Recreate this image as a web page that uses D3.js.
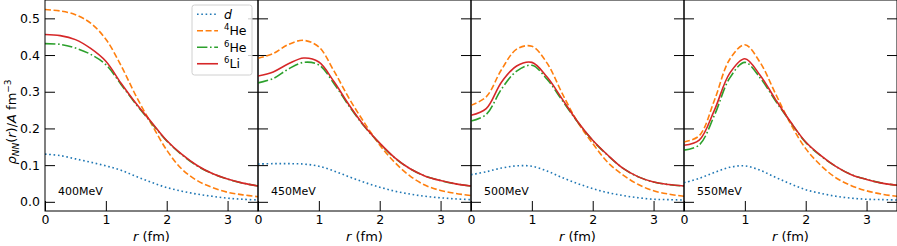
<!DOCTYPE html>
<html>
<head>
<meta charset="utf-8">
<script src="https://cdn.jsdelivr.net/npm/d3@7"></script>
<style>
  body { margin: 0; background: #fff; }
  text { font-family: "DejaVu Sans", sans-serif; }
</style>
</head>
<body>
<svg id="chart"></svg>
<script>
const size = {w: 897, h: 246};

// r grid (fm) shared by every curve
const rGrid = [0, 0.25, 0.5, 0.75, 1.0, 1.25, 1.5, 1.75, 2.0, 2.25, 2.5, 2.75, 3.0, 3.25, 3.5];
const energies = ['400MeV', '450MeV', '500MeV', '550MeV'];
const xTicks = [0, 1, 2, 3];
const yTicks = [0.0, 0.1, 0.2, 0.3, 0.4, 0.5];

// densities, one array per panel
const dVals = [
  [0.130, 0.126, 0.117, 0.108, 0.098, 0.086, 0.069, 0.053, 0.039, 0.029, 0.021, 0.015, 0.010, 0.007, 0.005],
  [0.103, 0.104, 0.104, 0.103, 0.097, 0.084, 0.068, 0.053, 0.040, 0.029, 0.021, 0.015, 0.011, 0.008, 0.006],
  [0.074, 0.082, 0.092, 0.098, 0.097, 0.084, 0.066, 0.050, 0.036, 0.025, 0.017, 0.011, 0.007, 0.006, 0.005],
  [0.052, 0.064, 0.080, 0.094, 0.098, 0.086, 0.067, 0.049, 0.033, 0.023, 0.015, 0.010, 0.007, 0.006, 0.005]
];
const he4Vals = [
  [0.524, 0.520, 0.510, 0.487, 0.443, 0.371, 0.287, 0.212, 0.141, 0.089, 0.058, 0.039, 0.026, 0.019, 0.014],
  [0.391, 0.404, 0.429, 0.440, 0.422, 0.356, 0.281, 0.215, 0.155, 0.107, 0.070, 0.045, 0.031, 0.023, 0.017],
  [0.263, 0.286, 0.360, 0.416, 0.424, 0.378, 0.295, 0.218, 0.159, 0.107, 0.073, 0.047, 0.030, 0.021, 0.015],
  [0.163, 0.180, 0.277, 0.388, 0.428, 0.380, 0.296, 0.213, 0.145, 0.099, 0.065, 0.044, 0.030, 0.021, 0.015]
];
const he6Vals = [
  [0.431, 0.429, 0.419, 0.402, 0.374, 0.320, 0.265, 0.215, 0.166, 0.128, 0.098, 0.077, 0.062, 0.051, 0.043],
  [0.324, 0.336, 0.362, 0.380, 0.373, 0.322, 0.260, 0.205, 0.159, 0.119, 0.090, 0.070, 0.058, 0.049, 0.043],
  [0.220, 0.238, 0.307, 0.356, 0.372, 0.334, 0.276, 0.218, 0.167, 0.126, 0.091, 0.068, 0.054, 0.047, 0.043],
  [0.141, 0.155, 0.236, 0.337, 0.380, 0.338, 0.276, 0.217, 0.162, 0.125, 0.096, 0.074, 0.061, 0.051, 0.045]
];
const li6Vals = [
  [0.456, 0.453, 0.442, 0.418, 0.383, 0.323, 0.267, 0.217, 0.167, 0.129, 0.099, 0.077, 0.062, 0.051, 0.043],
  [0.343, 0.354, 0.376, 0.392, 0.381, 0.327, 0.263, 0.206, 0.160, 0.120, 0.090, 0.070, 0.058, 0.049, 0.043],
  [0.236, 0.254, 0.326, 0.370, 0.380, 0.340, 0.280, 0.219, 0.168, 0.127, 0.091, 0.068, 0.054, 0.047, 0.043],
  [0.154, 0.168, 0.250, 0.350, 0.390, 0.345, 0.280, 0.218, 0.163, 0.126, 0.096, 0.074, 0.061, 0.051, 0.045]
];

const series = [
  {key: 'd',   vals: dVals,   color: '#1f77b4', dash: '1.6,2.7'},
  {key: '4He', vals: he4Vals, color: '#ff7f0e', dash: '6,2.6'},
  {key: '6He', vals: he6Vals, color: '#2ca02c', dash: '10.4,2.6,1.6,2.6'},
  {key: '6Li', vals: li6Vals, color: '#d62728', dash: null}
];

const panel = {left: 45, w: 213, top: 0, bottom: 211};

const svg = d3.select('#chart').attr('width', size.w).attr('height', size.h);

const yScale = d3.scaleLinear().domain([-0.025, 0.55]).range([panel.bottom, panel.top]);

energies.forEach((label, p) => {
  const x0 = panel.left + p * panel.w;
  const xScale = d3.scaleLinear().domain([0, 3.5]).range([x0, x0 + panel.w]);

  svg.append('clipPath').attr('id', 'clip' + p)
    .append('rect')
    .attr('x', x0).attr('y', panel.top)
    .attr('width', panel.w).attr('height', panel.bottom - panel.top);

  const g = svg.append('g');

  // inward ticks on left, right, bottom
  const left = g.append('g').attr('transform', `translate(${x0},0)`)
    .call(d3.axisLeft(yScale).tickValues(yTicks).tickSize(-10).tickPadding(5)
      .tickFormat(p === 0 ? d3.format('.1f') : ''));
  const right = g.append('g').attr('transform', `translate(${x0 + panel.w},0)`)
    .call(d3.axisRight(yScale).tickValues(yTicks).tickSize(-10).tickFormat(''));
  const bottom = g.append('g').attr('transform', `translate(0,${panel.bottom})`)
    .call(d3.axisBottom(xScale).tickValues(xTicks).tickSize(-10).tickPadding(4)
      .tickFormat(d3.format('d')));

  [left, right, bottom].forEach(a => {
    a.select('.domain').remove();
    a.selectAll('line').attr('stroke', '#000').attr('stroke-width', 1);
    a.selectAll('text').attr('fill', '#000').style('font-size', '12.5px')
      .style('font-family', '"DejaVu Sans", sans-serif');
  });

  const line = d3.line()
    .x((d, i) => xScale(rGrid[i]))
    .y(d => yScale(d))
    .curve(d3.curveCatmullRom.alpha(0.5));

  const lines = g.append('g').attr('clip-path', `url(#clip${p})`);
  series.forEach(s => {
    lines.append('path')
      .attr('d', line(s.vals[p]))
      .attr('fill', 'none')
      .attr('stroke', s.color)
      .attr('stroke-width', 1.6)
      .attr('stroke-dasharray', s.dash);
  });

  g.append('rect')
    .attr('x', x0).attr('y', panel.top)
    .attr('width', panel.w).attr('height', panel.bottom - panel.top)
    .attr('fill', 'none').attr('stroke', '#000').attr('stroke-width', 1);

  g.append('text')
    .attr('x', x0 + 13).attr('y', 195)
    .style('font-size', '11px')
    .text(label);

  const xl = g.append('text')
    .attr('x', x0 + panel.w / 2).attr('y', 241)
    .attr('text-anchor', 'middle')
    .style('font-size', '13px');
  xl.append('tspan').style('font-style', 'italic').text('r');
  xl.append('tspan').text(' (fm)');
});

// y label
const yl = svg.append('text')
  .attr('transform', 'translate(16,122) rotate(-90)')
  .attr('text-anchor', 'middle')
  .style('font-size', '13px');
yl.append('tspan').style('font-style', 'italic').text('ρ');
yl.append('tspan').style('font-style', 'italic').style('font-size', '9px').attr('dy', 3).text('NN');
yl.append('tspan').attr('dy', -3).text('(');
yl.append('tspan').style('font-style', 'italic').text('r');
yl.append('tspan').text(')/');
yl.append('tspan').style('font-style', 'italic').text('A');
yl.append('tspan').text(' fm');
yl.append('tspan').style('font-size', '9px').attr('dy', -5).text('−3');

// legend
const leg = svg.append('g');
leg.append('rect')
  .attr('x', 192).attr('y', 5).attr('width', 60).attr('height', 70)
  .attr('rx', 2.5)
  .attr('fill', 'rgba(255,255,255,0.8)')
  .attr('stroke', '#d0d0d0').attr('stroke-width', 1);

const legY = d3.scaleBand().domain(series.map(s => s.key)).range([6, 72]);
series.forEach(s => {
  const yc = legY(s.key) + legY.bandwidth() / 2;
  leg.append('line')
    .attr('x1', 197).attr('x2', 218).attr('y1', yc).attr('y2', yc)
    .attr('stroke', s.color).attr('stroke-width', 1.6)
    .attr('stroke-dasharray', s.dash);
  const t = leg.append('text').attr('x', 224).attr('y', yc + 4.5).style('font-size', '12.5px');
  if (s.key === 'd') {
    t.append('tspan').style('font-style', 'italic').text('d');
  } else {
    t.append('tspan').style('font-size', '8.5px').attr('dy', -5).text(s.key[0]);
    t.append('tspan').attr('dy', 5).text(s.key.slice(1));
  }
});
</script>
</body>
</html>
